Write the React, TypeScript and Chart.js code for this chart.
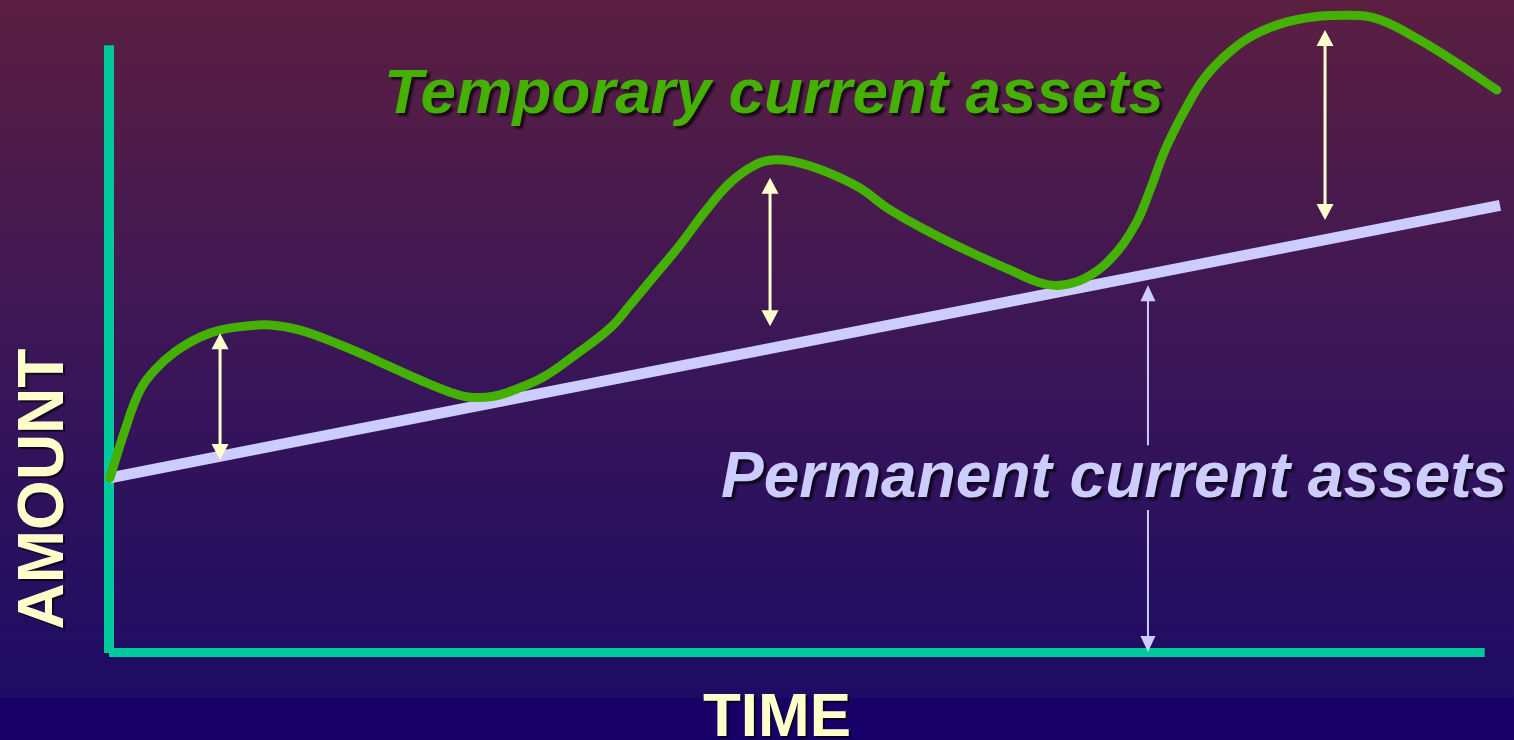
import React, { useEffect, useRef } from "react";
import { Chart, registerables } from "chart.js";

Chart.register(...registerables);

// Time (x, 0..100) and amount (y, 0..100)
const timeValues = [0.14, 1.22, 2.3, 3.38, 4.81, 6.61, 8.05, 9.84, 11.64, 13.79, 16.67, 19.54, 22.41, 24.57, 26.01, 27.8, 29.6, 31.39, 33.55, 36.06, 37.5, 39.3, 41.09, 42.89, 44.68, 46.48, 47.92, 49.71, 51.87, 54.02, 56.18, 59.05, 61.93, 64.8, 66.95, 68.39, 70.19, 71.98, 73.78, 74.86, 75.93, 77.37, 78.81, 80.6, 82.76, 85.63, 89.22, 91.38, 94.25, 97.13, 99.78];
const totalAssets = [27.2, 34.7, 40.9, 44.1, 46.9, 49.2, 50.3, 50.9, 51.1, 50.3, 48.0, 45.3, 42.5, 40.6, 39.8, 40.0, 41.3, 43.1, 46.4, 50.6, 54.2, 58.9, 63.6, 68.8, 73.3, 76.1, 76.9, 76.4, 74.8, 72.5, 69.1, 65.6, 62.5, 59.7, 57.7, 57.3, 58.4, 61.3, 66.7, 72.2, 78.4, 84.7, 89.8, 93.8, 96.9, 98.9, 99.5, 98.8, 95.6, 91.7, 87.8];

const permanentTime = [0.14, 100];
const permanentValues = [27.2, 69.8];

// Temporary-asset double arrows
const arrowTime = [8.05, 47.56, 87.43];
const arrowTop = [49.8, 74.1, 97.2];
const arrowBottom = [30.0, 50.9, 67.5];

// Permanent-asset double arrow (broken by the label)
const permArrowTime = 74.71;
const permArrowTop = 57.3;
const permArrowGapTop = 32.3;
const permArrowGapBottom = 22.2;
const permArrowBottom = 0;

const axisYTop = 94.8;
const axisXRight = 98.9;

const labelTemporary = "Temporary current assets";
const labelPermanent = "Permanent current assets";
const labelX = "TIME";
const labelY = "AMOUNT";

const FONT = '"Liberation Sans", Arial, sans-serif';

function arrowHead(ctx: CanvasRenderingContext2D, x: number, tipY: number, dir: number, w: number, len: number) {
  ctx.beginPath();
  ctx.moveTo(x, tipY);
  ctx.lineTo(x - w / 2, tipY + dir * len);
  ctx.lineTo(x + w / 2, tipY + dir * len);
  ctx.closePath();
  ctx.fill();
}

const decorPlugin = {
  id: "decor",
  beforeDraw(chart: any) {
    const { ctx, width, height } = chart;
    ctx.save();
    const g = ctx.createLinearGradient(0, 0, 0, 698);
    g.addColorStop(0, "#5b1f41");
    g.addColorStop(0.5, "#3b1657");
    g.addColorStop(1, "#1c0c64");
    ctx.fillStyle = g;
    ctx.fillRect(0, 0, width, 698);
    ctx.fillStyle = "#170068";
    ctx.fillRect(0, 698, width, height - 698);

    const xs = chart.scales.x;
    const ys = chart.scales.y;
    const x0 = xs.getPixelForValue(0) + 1;
    const y0 = ys.getPixelForValue(0);
    ctx.fillStyle = "#00c99b";
    ctx.fillRect(x0 - 5, ys.getPixelForValue(axisYTop), 10, y0 - ys.getPixelForValue(axisYTop) + 1);
    ctx.fillRect(x0, y0 - 4, xs.getPixelForValue(axisXRight) - x0, 9);
    ctx.restore();
  },
  afterDatasetsDraw(chart: any) {
    const { ctx } = chart;
    const xs = chart.scales.x;
    const ys = chart.scales.y;
    ctx.save();
    // cream arrows
    ctx.fillStyle = "#ffffcc";
    ctx.strokeStyle = "#ffffcc";
    ctx.lineWidth = 3;
    arrowTime.forEach((t, i) => {
      const x = xs.getPixelForValue(t);
      const yt = ys.getPixelForValue(arrowTop[i]);
      const yb = ys.getPixelForValue(arrowBottom[i]);
      ctx.beginPath();
      ctx.moveTo(x, yt + 10);
      ctx.lineTo(x, yb - 10);
      ctx.stroke();
      arrowHead(ctx, x, yt, 1, 17, 16);
      arrowHead(ctx, x, yb, -1, 17, 16);
    });
    // lavender arrow
    ctx.fillStyle = "#ccccff";
    ctx.strokeStyle = "#ccccff";
    ctx.lineWidth = 2;
    const px = xs.getPixelForValue(permArrowTime);
    const pt = ys.getPixelForValue(permArrowTop);
    const pb = ys.getPixelForValue(permArrowBottom);
    ctx.beginPath();
    ctx.moveTo(px, pt + 10);
    ctx.lineTo(px, ys.getPixelForValue(permArrowGapTop));
    ctx.moveTo(px, ys.getPixelForValue(permArrowGapBottom));
    ctx.lineTo(px, pb - 10);
    ctx.stroke();
    arrowHead(ctx, px, pt, 1, 15, 16);
    arrowHead(ctx, px, pb, -1, 15, 16);

    // labels
    ctx.shadowColor = "rgba(0,0,0,0.65)";
    ctx.shadowOffsetX = 3;
    ctx.shadowOffsetY = 3;
    ctx.shadowBlur = 2;
    ctx.textBaseline = "alphabetic";
    ctx.textAlign = "left";
    ctx.font = `italic bold 63.7px ${FONT}`;
    ctx.fillStyle = "#44b000";
    ctx.fillText(labelTemporary, 384, 113);
    ctx.font = `italic bold 64px ${FONT}`;
    ctx.fillStyle = "#ccccff";
    ctx.fillText(labelPermanent, 721, 497);

    ctx.shadowOffsetX = 2;
    ctx.shadowOffsetY = 2;
    ctx.shadowBlur = 1;
    ctx.fillStyle = "#ffffcc";
    ctx.font = `bold 62px ${FONT}`;
    ctx.textAlign = "center";
    ctx.fillText(labelX, 777, 736);
    ctx.font = `bold 64px ${FONT}`;
    ctx.translate(63, 489);
    ctx.rotate(-Math.PI / 2);
    ctx.fillText(labelY, 0, 0);
    ctx.restore();
  },
};

export default function App() {
  const ref = useRef<HTMLCanvasElement>(null);
  useEffect(() => {
    document.body.style.margin = "0";
    const canvas = ref.current;
    if (!canvas) return;
    const chart = new Chart(canvas, {
      type: "line",
      data: {
        datasets: [
          {
            label: "Temporary current assets",
            data: timeValues.map((t, i) => ({ x: t, y: totalAssets[i] })),
            borderColor: "#44b000",
            borderWidth: 9,
            pointRadius: 0,
            tension: 0.4,
            borderCapStyle: "round",
            borderJoinStyle: "round",
            clip: false as any,
            order: 1,
          },
          {
            label: "Permanent current assets",
            data: permanentTime.map((t, i) => ({ x: t, y: permanentValues[i] })),
            borderColor: "#ccccff",
            borderWidth: 11,
            pointRadius: 0,
            tension: 0,
            clip: false as any,
            order: 2,
          },
        ],
      },
      options: {
        responsive: false,
        animation: false,
        layout: { padding: { left: 108, right: 14, top: 12, bottom: 88 } },
        plugins: { legend: { display: false }, tooltip: { enabled: false } },
        scales: {
          x: { type: "linear", min: 0, max: 100, display: false },
          y: { type: "linear", min: 0, max: 100, display: false },
        },
      },
      plugins: [decorPlugin],
    });
    return () => chart.destroy();
  }, []);
  return <canvas ref={ref} width={1514} height={740} style={{ display: "block" }} />;
}
